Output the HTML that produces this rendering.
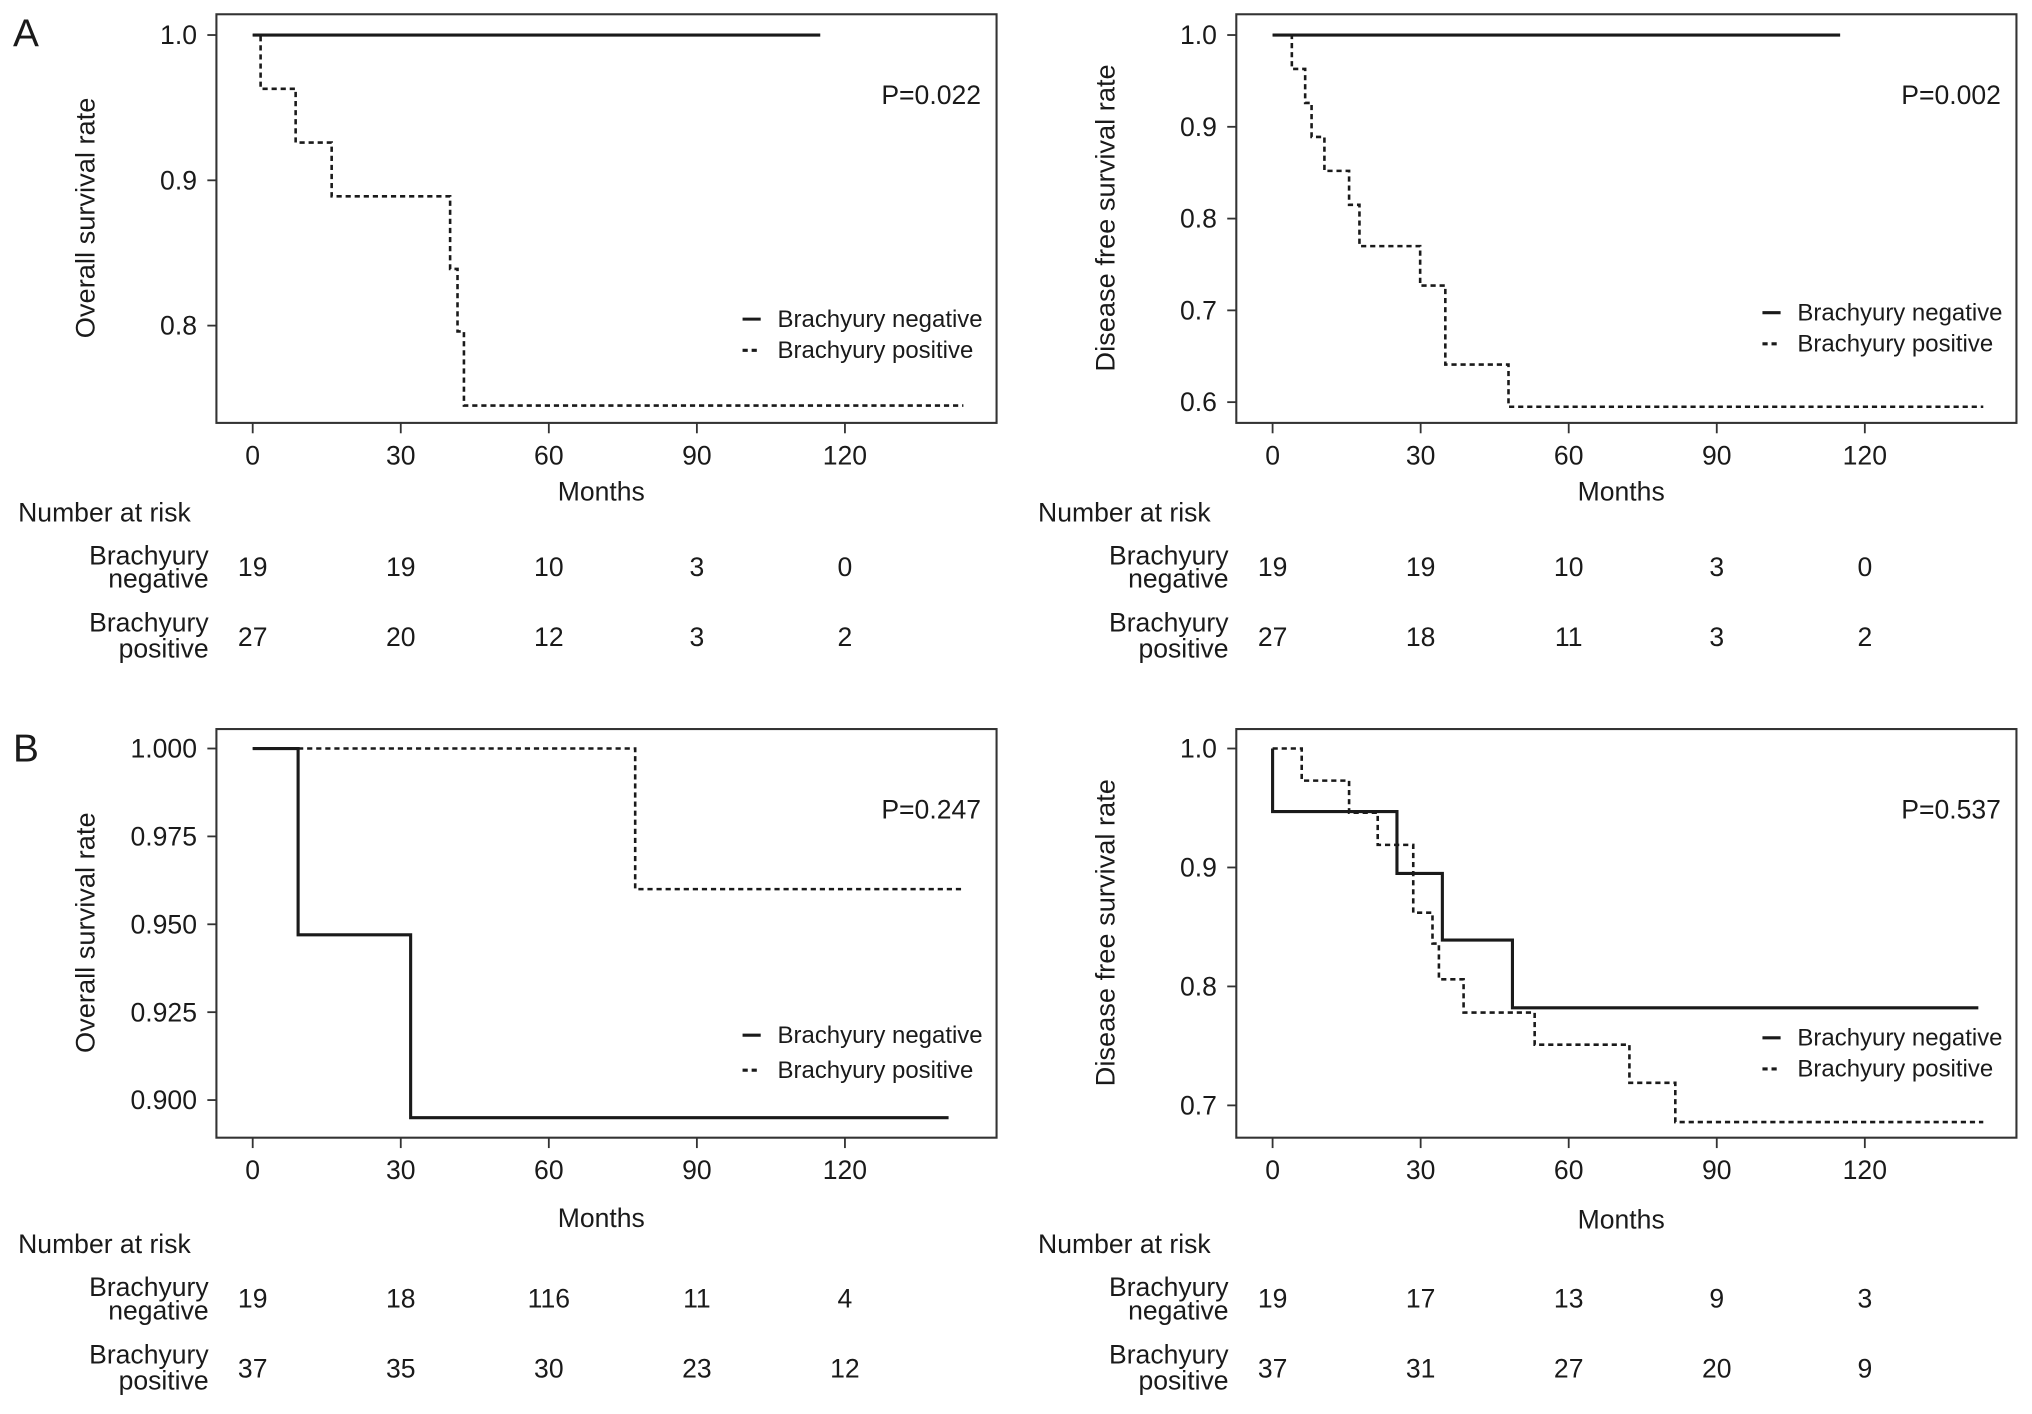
<!DOCTYPE html>
<html><head><meta charset="utf-8"><style>
html,body{margin:0;padding:0;background:#fff;}
svg{display:block;}
text{font-family:"Liberation Sans",Arial,sans-serif;fill:#1a1a1a;}
</style></head><body>
<svg id="fig" width="2032" height="1414" viewBox="0 0 1568 1090" preserveAspectRatio="none" xmlns="http://www.w3.org/2000/svg">
<text x="10" y="36" font-size="30">A</text>
<text x="10" y="587" font-size="30">B</text>
</svg>
<script>
// Panel A-left: overall survival
const aOsNegT=[0,115]; const aOsNegS=[1.0,1.0];
const aOsPosT=[0,1.6,8.7,16,40,41.5,42.8,144]; const aOsPosS=[1.0,0.963,0.926,0.889,0.839,0.796,0.745,0.745];
const aOsYTicks=[0.8,0.9,1.0]; const aOsYLabels=["0.8","0.9","1.0"];
const aOsRiskNeg=["19","19","10","3","0"]; const aOsRiskPos=["27","20","12","3","2"];
// Panel A-right: disease free survival
const aDfsNegT=[0,115]; const aDfsNegS=[1.0,1.0];
const aDfsPosT=[0,3.9,6.6,7.9,10.5,15.5,17.6,29.9,35,47.8,144]; const aDfsPosS=[1.0,0.963,0.926,0.889,0.852,0.815,0.77,0.727,0.641,0.595,0.595];
const aDfsYTicks=[0.6,0.7,0.8,0.9,1.0]; const aDfsYLabels=["0.6","0.7","0.8","0.9","1.0"];
const aDfsRiskNeg=["19","19","10","3","0"]; const aDfsRiskPos=["27","18","11","3","2"];
// Panel B-left: overall survival
const bOsNegT=[0,9.2,32,141]; const bOsNegS=[1.0,0.947,0.895,0.895];
const bOsPosT=[0,77.5,144]; const bOsPosS=[1.0,0.96,0.96];
const bOsYTicks=[0.9,0.925,0.95,0.975,1.0]; const bOsYLabels=["0.900","0.925","0.950","0.975","1.000"];
const bOsRiskNeg=["19","18","116","11","4"]; const bOsRiskPos=["37","35","30","23","12"];
// Panel B-right: disease free survival
const bDfsNegT=[0,0,25.2,34.4,48.6,143]; const bDfsNegS=[1.0,0.947,0.895,0.839,0.782,0.782];
const bDfsPosT=[0,5.9,15.5,21.3,28.5,32.4,33.7,38.7,53.1,72.3,81.6,144]; const bDfsPosS=[1.0,0.973,0.946,0.919,0.862,0.836,0.806,0.778,0.751,0.719,0.686,0.686];
const bDfsYTicks=[0.7,0.8,0.9,1.0]; const bDfsYLabels=["0.7","0.8","0.9","1.0"];
const bDfsRiskNeg=["19","17","13","9","3"]; const bDfsRiskPos=["37","31","27","20","9"];
const xTicks=[0,30,60,90,120];

const NS="http://www.w3.org/2000/svg";
const svg=document.getElementById('fig');
function mk(tag,attrs,parent){const e=document.createElementNS(NS,tag);for(const k in attrs)e.setAttribute(k,attrs[k]);(parent||svg).appendChild(e);return e;}

function panel(o){
  const g=mk('g',{});
  
  
  const x0=o.bx+28, pxPerMonth=(457)/120;
  const xs=t=>x0+t*pxPerMonth;
  const ys=v=>o.y1px+(1-v)*o.pxPerUnit;
  const sh=o.shift;
  const box=mk('rect',{x:o.bx,y:o.by,width:602,height:315,fill:'none',stroke:'#333','stroke-width':1.6},g);
  
  
  o.yTicks.forEach((v,i)=>{
    const y=ys(v);
    const tk=mk('line',{x1:o.bx-7,x2:o.bx,y1:y,y2:y,stroke:'#333','stroke-width':1.4},g);
    
    
    const t=mk('text',{x:o.bx-15,y:y+7,'font-size':20.5,'text-anchor':'end'},g);
    t.textContent=o.yLabels[i];
    
    
  });
  xTicks.forEach((v,i)=>{
    const x=xs(v);
    const tk=mk('line',{x1:x,x2:x,y1:o.by+315,y2:o.by+323,stroke:'#333','stroke-width':1.4},g);
    
    
    const t=mk('text',{x:x,y:o.by+347,'font-size':20.5,'text-anchor':'middle'},g);
    t.textContent=String(v);
    
    
    const r1=mk('text',{x:x,y:o.by+433+sh,'font-size':20.5,'text-anchor':'middle'},g);
    r1.textContent=o.riskNeg[i];
    
    
    const r2=mk('text',{x:x,y:o.by+487+sh,'font-size':20.5,'text-anchor':'middle'},g);
    r2.textContent=o.riskPos[i];
    
    
  });
  const xt=mk('text',{x:o.bx+297,y:o.by+375+o.mshift,'font-size':20.5,'text-anchor':'middle'},g);
  xt.textContent='Months';
  
  
  const yt=mk('text',{x:0,y:0,'font-size':21,'text-anchor':'middle',transform:`translate(${o.bx-94},${o.by+157}) rotate(-90)`},g);
  yt.textContent=o.ytitle;
  
  
  const nr=mk('text',{x:o.bx-153,y:o.by+391+sh,'font-size':20.5},g);
  nr.textContent='Number at risk';
  
  
  [['Brachyury',o.by+424+sh],['negative',o.by+442+sh],['Brachyury',o.by+476+sh],['positive',o.by+496+sh]].forEach(([s,y],i)=>{
    const t=mk('text',{x:o.bx-6,y:y,'font-size':20.5,'text-anchor':'end'},g);
    t.textContent=s;
    
    
  });
  const p=mk('text',{x:o.bx+590,y:o.by+69,'font-size':20.5,'text-anchor':'end'},g);
  p.textContent=o.p;
  
  
  function step(T,S,dash,name){
    let d=`M${xs(T[0])},${ys(S[0])}`;
    for(let i=1;i<T.length;i++){d+=` H${xs(T[i])} V${ys(S[i])}`;}
    const pa=mk('path',{d:d,fill:'none',stroke:'#1a1a1a','stroke-width':dash?2:2.4,'stroke-dasharray':dash?'4,3':'none'},g);
    
    
  }
  step(o.negT,o.negS,false,'curve-brachyury-negative');
  step(o.posT,o.posS,true,'curve-brachyury-positive');
  [[o.legY,false,'Brachyury negative','legend-entry-negative'],[o.legY+24+o.legGap,true,'Brachyury positive','legend-entry-positive']].forEach(([y,dash,s,n])=>{
    const lg=mk('g',{},g);
    
    
    mk('line',{x1:o.bx+406,x2:o.bx+420,y1:y,y2:y,stroke:'#1a1a1a','stroke-width':2.4,'stroke-dasharray':dash?'4,3':'none'},lg);
    const t=mk('text',{x:o.bx+433,y:y+6,'font-size':18.5},lg);
    t.textContent=s;
  });
}
panel({name:'panel-a-overall-survival',bx:167,by:11,y1px:27,pxPerUnit:1120,yTicks:aOsYTicks,yLabels:aOsYLabels,ytitle:'Overall survival rate',p:'P=0.022',negT:aOsNegT,negS:aOsNegS,posT:aOsPosT,posS:aOsPosS,riskNeg:aOsRiskNeg,riskPos:aOsRiskPos,legY:246,legGap:0,shift:0,mshift:0});
panel({name:'panel-a-disease-free-survival',bx:954,by:11,y1px:27,pxPerUnit:707.5,yTicks:aDfsYTicks,yLabels:aDfsYLabels,ytitle:'Disease free survival rate',p:'P=0.002',negT:aDfsNegT,negS:aDfsNegS,posT:aDfsPosT,posS:aDfsPosS,riskNeg:aDfsRiskNeg,riskPos:aDfsRiskPos,legY:241,legGap:0,shift:0,mshift:0});
panel({name:'panel-b-overall-survival',bx:167,by:562,y1px:577,pxPerUnit:2710,yTicks:bOsYTicks,yLabels:bOsYLabels,ytitle:'Overall survival rate',p:'P=0.247',negT:bOsNegT,negS:bOsNegS,posT:bOsPosT,posS:bOsPosS,riskNeg:bOsRiskNeg,riskPos:bOsRiskPos,legY:798,legGap:3,shift:13,mshift:9});
panel({name:'panel-b-disease-free-survival',bx:954,by:562,y1px:577,pxPerUnit:917,yTicks:bDfsYTicks,yLabels:bDfsYLabels,ytitle:'Disease free survival rate',p:'P=0.537',negT:bDfsNegT,negS:bDfsNegS,posT:bDfsPosT,posS:bDfsPosS,riskNeg:bDfsRiskNeg,riskPos:bDfsRiskPos,legY:800,legGap:0,shift:13,mshift:10});
</script>
</body></html>
